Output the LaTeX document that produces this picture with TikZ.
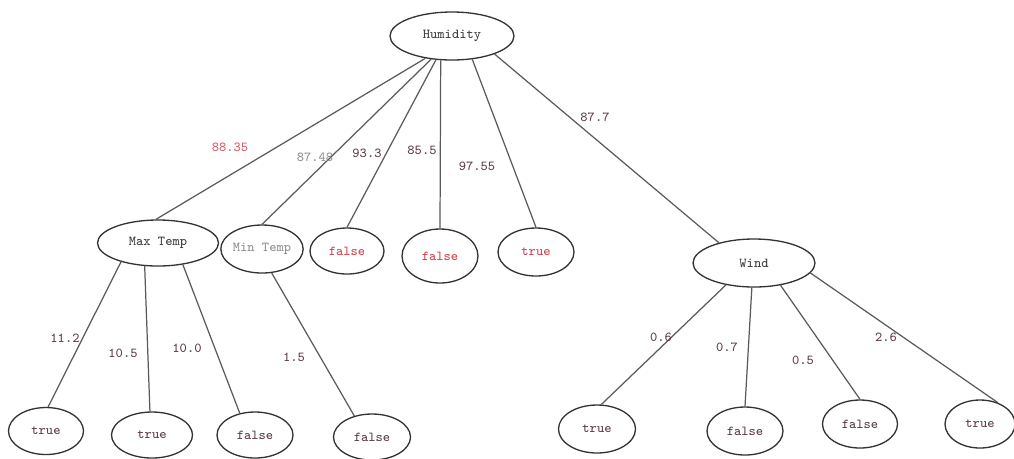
\documentclass[tikz,border=0pt]{standalone}
\usetikzlibrary{shapes.geometric}
\definecolor{nodeline}{HTML}{333333}
\definecolor{edgeline}{HTML}{5A5A5A}
\definecolor{darktxt}{HTML}{3A3A3A}
\definecolor{plumtxt}{HTML}{5C3C46}
\definecolor{redtxt}{HTML}{D2404C}
\definecolor{pinktxt}{HTML}{DC5A64}
\definecolor{graytxt}{HTML}{8E8E8E}

\begin{document}
\begin{tikzpicture}[
  x=0.02cm, y=-0.02cm,
  attr/.style={ellipse, draw=nodeline, line width=0.75pt, inner sep=0pt,
               font=\ttfamily\fontsize{7.8}{9}\selectfont, text=darktxt},
  leaf/.style={attr, minimum width=76*0.02cm, minimum height=46*0.02cm, text=plumtxt},
  edge/.style={draw=edgeline, line width=0.7pt},
  lab/.style={font=\ttfamily\fontsize{7.8}{9}\selectfont, text=plumtxt, inner sep=0pt},
]
\useasboundingbox (0,0) rectangle (1014,458);

% root
\node[attr, minimum width=124*0.02cm, minimum height=48*0.02cm] (hum) at (452,36) {Humidity};

% second level
\node[attr, minimum width=121*0.02cm, minimum height=46*0.02cm] (maxt) at (158,243) {Max Temp};
\node[attr, minimum width=77*0.02cm, minimum height=48*0.02cm, text=graytxt] (mint) at (262,249) {Min Temp};
\node[leaf, minimum width=74*0.02cm, text=redtxt] (hf1) at (347,251) {false};
\node[leaf, minimum width=76*0.02cm, minimum height=54*0.02cm, text=redtxt] (hf2) at (440,256) {false};
\node[leaf, minimum width=76*0.02cm, minimum height=48*0.02cm, text=redtxt] (ht1) at (536,252) {true};
\node[attr, minimum width=122*0.02cm, minimum height=48*0.02cm] (wind) at (754,263) {Wind};

% leaves
\node[leaf, minimum width=75*0.02cm, minimum height=47*0.02cm] (mt1) at (46,431) {true};
\node[leaf, minimum width=81*0.02cm] (mt2) at (152,435) {true};
\node[leaf] (mf1) at (255,435) {false};
\node[leaf, minimum width=77*0.02cm] (nf1) at (372,437) {false};
\node[leaf, minimum width=77*0.02cm, minimum height=48*0.02cm] (wt1) at (597,429) {true};
\node[leaf, minimum height=48*0.02cm] (wf1) at (745,431) {false};
\node[leaf, minimum width=75*0.02cm, minimum height=48*0.02cm] (wf2) at (860,424) {false};
\node[leaf, minimum width=70*0.02cm, minimum height=48*0.02cm] (wt2) at (980,424) {true};

% edges
\draw[edge] (hum.220) -- (maxt.95);
\draw[edge] (hum.228) -- (mint.north);
\draw[edge] (hum.236) -- (hf1.north);
\draw[edge] (hum.245) -- (hf2.north);
\draw[edge] (hum.311) -- (ht1.north);
\draw[edge] (hum.337) -- (wind.150);
\draw[edge] (maxt.207) -- (mt1.85);
\draw[edge] (maxt.240) -- (mt2.95);
\draw[edge] (maxt.319) -- (mf1.125);
\draw[edge] (mint.292) -- (nf1.130);
\draw[edge] (wind.218) -- (wt1.80);
\draw[edge] (wind.265) -- (wf1.north);
\draw[edge] (wind.320) -- (wf2.north);
\draw[edge] (wind.350) -- (wt2.50);

% edge values
\node[lab, text=pinktxt] (v1) at (230,147) {88.35};
\node[lab, text=graytxt] (v2) at (315,157) {87.48};
\node[lab] (v3) at (367,153) {93.3};
\node[lab] (v4) at (422,150) {85.5};
\node[lab] (v5) at (477,166) {97.55};
\node[lab] (v6) at (595,117) {87.7};
\node[lab] (v7) at (65,338) {11.2};
\node[lab] (v8) at (123,353) {10.5};
\node[lab] (v9) at (187,348) {10.0};
\node[lab] (v10) at (294,357) {1.5};
\node[lab] (v11) at (661,337) {0.6};
\node[lab] (v12) at (727,347) {0.7};
\node[lab] (v13) at (803,360) {0.5};
\node[lab] (v14) at (886,337) {2.6};

\end{tikzpicture}
\end{document}
